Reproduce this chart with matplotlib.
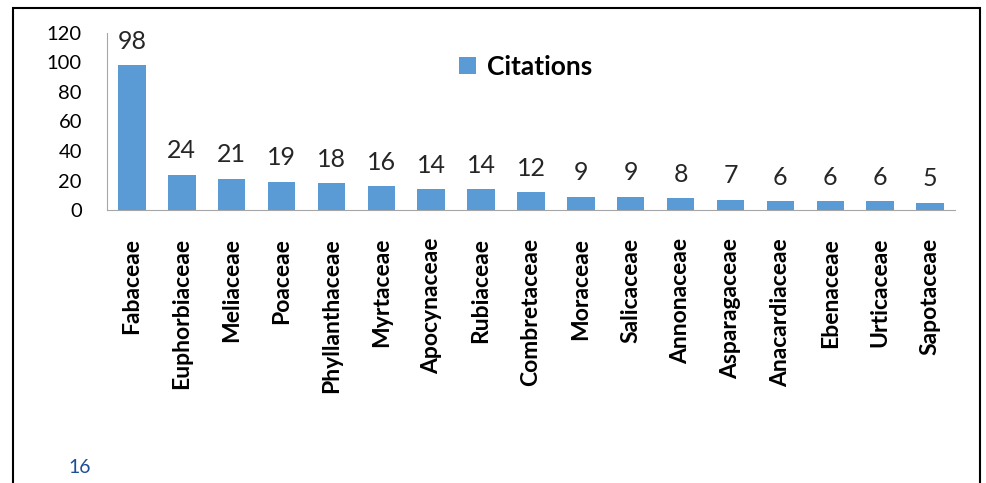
import matplotlib
matplotlib.use("Agg")
import matplotlib.pyplot as plt
from matplotlib.patches import Rectangle

families = ["Fabaceae", "Euphorbiaceae", "Meliaceae", "Poaceae", "Phyllanthaceae",
            "Myrtaceae", "Apocynaceae", "Rubiaceae", "Combretaceae", "Moraceae",
            "Salicaceae", "Annonaceae", "Asparagaceae", "Anacardiaceae", "Ebenaceae",
            "Urticaceae", "Sapotaceae"]
citations = [98, 24, 21, 19, 18, 16, 14, 14, 12, 9, 9, 8, 7, 6, 6, 6, 5]
yticks = [0, 20, 40, 60, 80, 100, 120]

plt.rcParams['font.family'] = ['Lato', 'DejaVu Sans']

fig = plt.figure(figsize=(9.86, 4.83), dpi=100)
ax = fig.add_axes([0.1085, 0.5652, 0.86, 0.3665])

x = range(len(families))
bars = ax.bar(x, citations, width=0.55, color="#5B9BD5", label="Citations")
for b, v in zip(bars, citations):
    ax.text(b.get_x() + b.get_width() / 2, v + 8.5, str(v), ha="center", va="bottom",
            fontsize=18, color="#262626")

ax.set_xlim(-0.5, len(families) - 0.5)
ax.set_ylim(0, 120)
ax.set_yticks(yticks)
ax.set_xticks(list(x))
ax.set_xticklabels(families, rotation=90, fontsize=16.5, fontweight="bold")
ax.tick_params(axis="y", length=0, labelsize=14.5, pad=18)
ax.tick_params(axis="x", length=0, pad=20)
for s in ["top", "right"]:
    ax.spines[s].set_visible(False)
for s in ["left", "bottom"]:
    ax.spines[s].set_color("#A6A6A6")

leg = ax.legend(loc="center left", bbox_to_anchor=(0.415, 0.81), frameon=False,
                prop={"weight": "bold", "size": 19}, handlelength=0.65,
                handleheight=0.65, handletextpad=0.4, borderpad=0, borderaxespad=0)

# outer frame
fig.patches.append(Rectangle((0.013, -0.05), 0.981, 1.033, transform=fig.transFigure,
                             fill=False, edgecolor="black", linewidth=1.5))
fig.text(0.069, 0.02, "16", fontsize=14, color="#1F4E99")

fig.savefig("out.png", dpi=100)
